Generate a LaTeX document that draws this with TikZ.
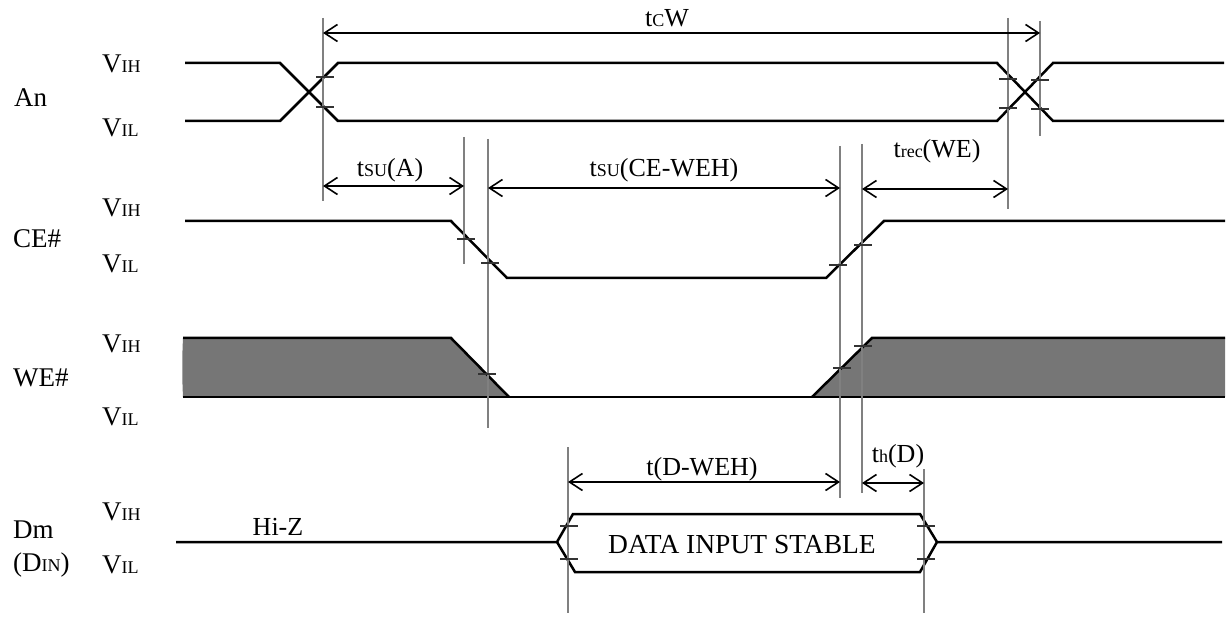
\documentclass[tikz,border=0pt]{standalone}
\usepackage{fontspec}
\setmainfont{Liberation Serif}
\usetikzlibrary{arrows.meta}
\definecolor{wefill}{HTML}{767676}
\newcommand\smtxt[1]{{\fontsize{18}{20}\selectfont #1}}
\begin{document}
\begin{tikzpicture}[x=1pt,y=-1pt,
  sig/.style={line width=2.5pt, line join=miter},
  vref/.style={line width=1.3pt, draw=black!50},
  tickline/.style={line width=1.1pt, draw=black!80},
  dimarrow/.style={line width=1.6pt, {Straight Barb[length=13pt,width=17pt]}-{Straight Barb[length=13pt,width=17pt]}},
  side/.style={anchor=base west, inner sep=0pt, font=\fontsize{27}{30}\selectfont},
  tlab/.style={anchor=base, inner sep=0pt, font=\fontsize{26}{30}\selectfont},
  tk/.pic={\draw[tickline] (-9,0) -- (9,0);}
]
\useasboundingbox (0,0) rectangle (1229,617);

% ---------- side labels ----------
\node[side] (nAn)  at (14,107) {An};
\node[side] (nAvh) at (102,73)  {V\smtxt{IH}};
\node[side] (nAvl) at (102,137) {V\smtxt{IL}};
\node[side] (nCE)  at (13,248) {CE\#};
\node[side] (nCvh) at (102,217) {V\smtxt{IH}};
\node[side] (nCvl) at (102,273) {V\smtxt{IL}};
\node[side] (nWE)  at (13,387) {WE\#};
\node[side] (nWvh) at (102,353) {V\smtxt{IH}};
\node[side] (nWvl) at (102,425) {V\smtxt{IL}};
\node[side] (nDm)  at (13,538) {Dm};
\node[side] (nDin) at (13,571) {(D\smtxt{IN})};
\node[side] (nDvh) at (102,520) {V\smtxt{IH}};
\node[side] (nDvl) at (102,573) {V\smtxt{IL}};

% ---------- WE# shaded regions ----------
\fill[wefill] (183,338) -- (451,338) -- (509,397) -- (183,397)
   .. controls (182,377) and (182,358) .. (183,338) -- cycle;
\fill[wefill] (812,397) -- (872,338) -- (1225,338) -- (1225,397) -- cycle;

% ---------- signals ----------
\draw[sig] (185,63) -- (280,63) -- (338,121) -- (997,121) -- (1053,63) -- (1224,63);
\draw[sig] (185,121) -- (280,121) -- (338,63) -- (997,63) -- (1053,121) -- (1224,121);
\draw[sig] (185,221) -- (451,221) -- (507,278) -- (826,278) -- (884,221) -- (1225,221);
\draw[sig] (183,338) -- (451,338) -- (509,397);
\draw[sig] (183,397) -- (1225,397);
\draw[sig] (812,397) -- (872,338) -- (1225,338);
\draw[sig] (176,542) -- (557,542) -- (573,514) -- (920,514) -- (937,542) -- (1222,542);
\draw[sig] (557,542) -- (575,572) -- (920,572) -- (937,542);

% ---------- vertical reference lines ----------
\coordinate (v1t) at (323,18);   \coordinate (v1b) at (323,201);
\coordinate (v2t) at (464,137);  \coordinate (v2b) at (464,264);
\coordinate (v3t) at (488,139);  \coordinate (v3b) at (488,428);
\coordinate (v4t) at (840,146);  \coordinate (v4b) at (840,498);
\coordinate (v5t) at (862,144);  \coordinate (v5b) at (862,493);
\coordinate (v6t) at (1008,18);  \coordinate (v6b) at (1008,209);
\coordinate (v7t) at (1040,21);  \coordinate (v7b) at (1040,136);
\coordinate (v8t) at (568,447);  \coordinate (v8b) at (568,613);
\coordinate (v9t) at (924,469);  \coordinate (v9b) at (924,613);
\foreach \v in {1,...,9} \draw[vref] (v\v t) -- (v\v b);

% ---------- ticks ----------
\pic at (325,77) {tk};  \pic at (325,107) {tk};
\pic at (1008,79) {tk}; \pic at (1008,108) {tk};
\pic at (1040,80) {tk}; \pic at (1040,109) {tk};
\pic at (466,239) {tk}; \pic at (490,263) {tk};
\pic at (838,265) {tk}; \pic at (863,245) {tk};
\pic at (487,374) {tk}; \pic at (842,368) {tk}; \pic at (863,346) {tk};
\pic at (569,526) {tk}; \pic at (569,559) {tk};
\pic at (926,526) {tk}; \pic at (926,559) {tk};

% ---------- dimension arrows ----------
\coordinate (acwL) at (323,33);   \coordinate (acwR) at (1040,33);
\coordinate (asaL) at (323,186);  \coordinate (asaR) at (464,186);
\coordinate (asceL) at (488,188); \coordinate (asceR) at (840,188);
\coordinate (arecL) at (862,189); \coordinate (arecR) at (1008,189);
\coordinate (adwL) at (568,482);  \coordinate (adwR) at (840,482);
\coordinate (ahdL) at (862,483);  \coordinate (ahdR) at (924,483);
\draw[dimarrow] (acwL) -- (acwR);
\draw[dimarrow] (asaL) -- (asaR);
\draw[dimarrow] (asceL) -- (asceR);
\draw[dimarrow] (arecL) -- (arecR);
\draw[dimarrow] (adwL) -- (adwR);
\draw[dimarrow] (ahdL) -- (ahdR);

% ---------- timing labels ----------
\node[tlab] (lcw)   at (667,27)  {t\smtxt{C}W};
\node[tlab] (lsua)  at (390,177) {t\smtxt{SU}(A)};
\node[tlab] (lsuce) at (664,177) {t\smtxt{SU}(CE-WEH)};
\node[tlab] (lrec)  at (937,158) {t\smtxt{rec}(WE)};
\node[tlab] (ldweh) at (702,475) {t(D-WEH)};
\node[tlab] (lhd)   at (898,462) {t\smtxt{h}(D)};
\node[tlab, font=\fontsize{27.5}{30}\selectfont] (ldata) at (742,553) {DATA INPUT STABLE};
\node[tlab] (lhiz)  at (278,535) {Hi-Z};
\end{tikzpicture}
\end{document}
